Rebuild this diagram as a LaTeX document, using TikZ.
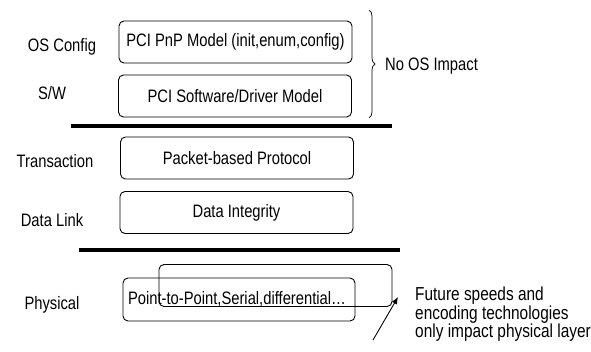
\documentclass[tikz,border=0pt]{standalone}
\usepackage{fontspec}
\setmainfont[FakeStretch=0.82]{Liberation Sans}
\usetikzlibrary{decorations.pathreplacing,arrows.meta}
\begin{document}
\begin{tikzpicture}[x=1pt,y=-1pt,
  txt/.style={font=\fontsize{18}{20}\selectfont, inner sep=0pt},
  layerbox/.style={draw, line width=0.9pt, rounded corners=5pt, minimum width=233pt, minimum height=42pt, inner sep=0pt, font=\fontsize{18}{20}\selectfont},
  heavy/.style={line width=3.8pt},
  note/.style={font=\fontsize{18.8}{17}\selectfont, align=left, inner sep=0pt}]
\useasboundingbox (0,0) rectangle (591,351);
% left labels
\node[txt] (osc) at (62,47) {OS Config};
\node[txt] (sw) at (52,93) {S/W};
\node[txt] (tr) at (55,161) {Transaction};
\node[txt] (dl) at (52,220) {Data Link};
\node[txt] (ph) at (52,305) {Physical};
% boxes
\node[layerbox] (pnp) at (235.5,42) {PCI PnP Model (init,enum,config)};
\node[layerbox] (drv) at (235,96) {PCI Software/Driver Model};
\node[layerbox] (pkt) at (237,158) {Packet-based Protocol};
\node[layerbox] (dint) at (236.5,212.5) {Data Integrity};
\node[layerbox] (back) at (275.5,285.5) {};
\node[layerbox, minimum width=232pt, minimum height=43pt, text width=222pt, align=left] (front) at (239,299.5) {Point-to-Point,Serial,differential\ldots};
% heavy separators
\coordinate (l1a) at (71,126); \coordinate (l1b) at (392,126);
\coordinate (l2a) at (79,250); \coordinate (l2b) at (400,250);
\draw[heavy] (l1a) -- (l1b);
\draw[heavy] (l2a) -- (l2b);
% brace
\coordinate (bt) at (369,10); \coordinate (bb) at (369,118);
\draw[line width=0.7pt, decoration={brace, amplitude=6pt}, decorate] (bt) -- (bb);
\node[txt, anchor=west] (noos) at (385,66) {No OS Impact};
% note and arrow
\node[note, anchor=north west] (fut) at (415,287) {Future speeds and\\ encoding technologies\\ only impact physical layer};
\coordinate (as) at (373,340); \coordinate (ae) at (398,297);
\draw[line width=0.9pt, -{Latex[length=7pt,width=6pt]}] (as) -- (ae);
\end{tikzpicture}
\end{document}
